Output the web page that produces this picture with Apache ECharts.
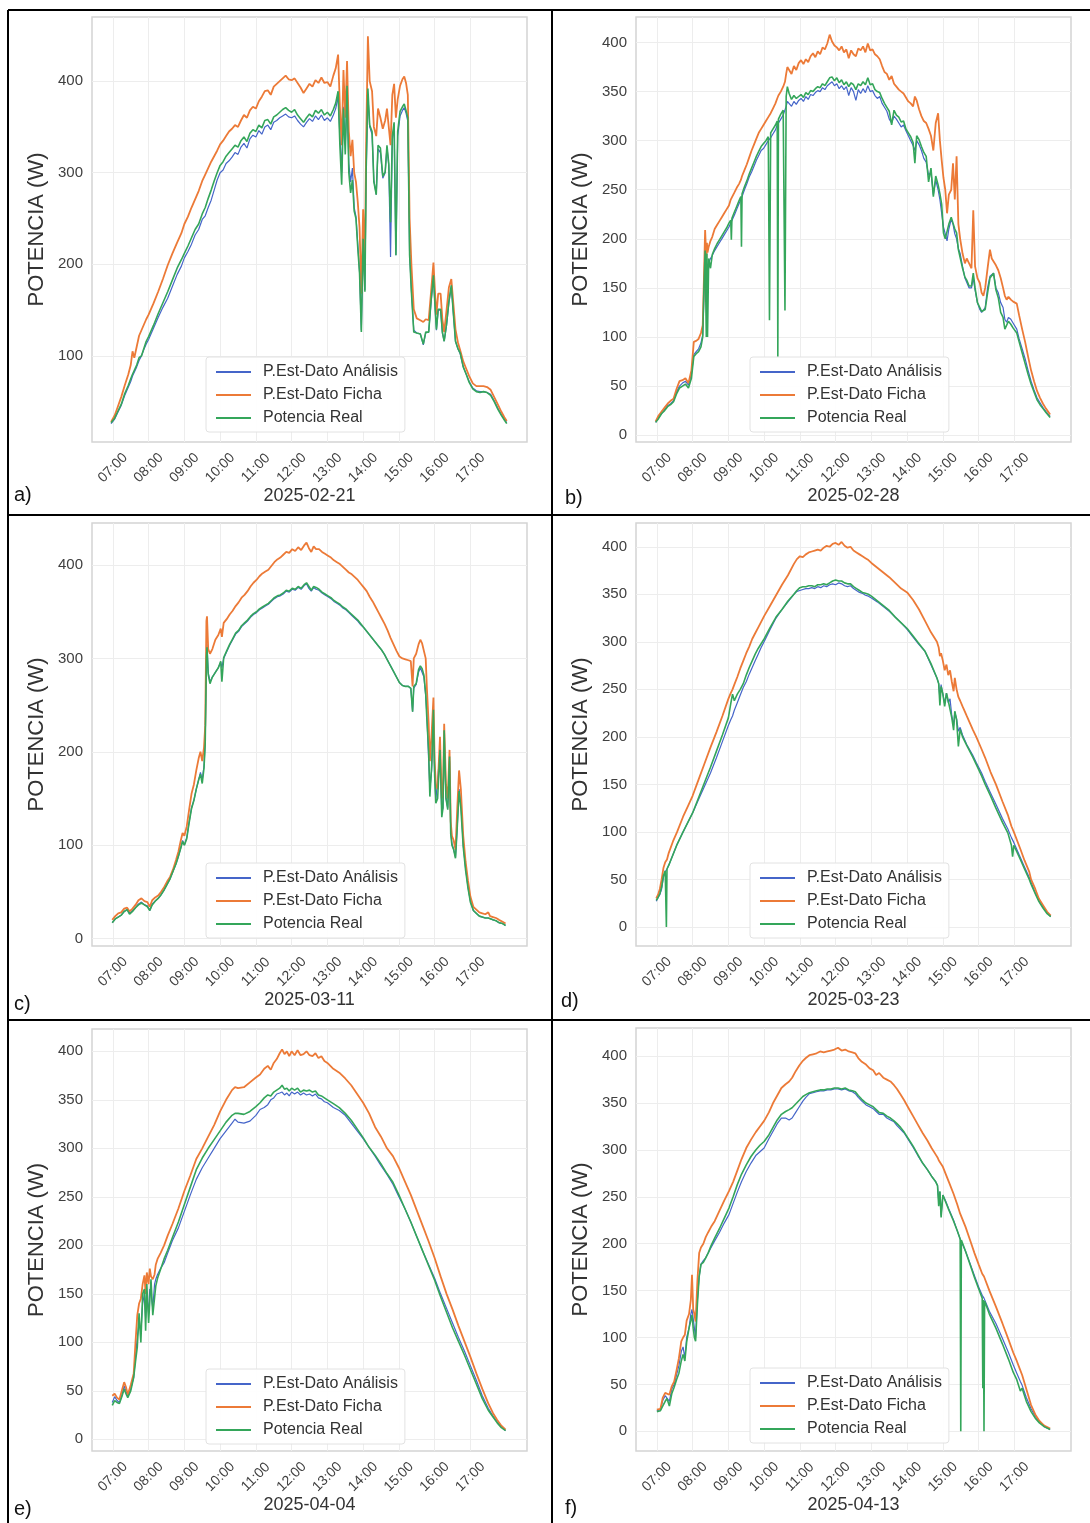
<!DOCTYPE html>
<html><head><meta charset="utf-8">
<script src="https://cdn.jsdelivr.net/npm/echarts@6/dist/echarts.min.js"></script>
<style>html,body{margin:0;padding:0;background:#fff;}#c{width:1090px;height:1523px;}</style>
</head><body><div id="c"></div>
<script>
const SERIES_NAMES = ['P.Est-Dato Análisis', 'P.Est-Dato Ficha', 'Potencia Real'];
const DATES = ['2025-02-21', '2025-02-28', '2025-03-11', '2025-03-23', '2025-04-04', '2025-04-13'];
const PANEL_LETTERS = ['a)', 'b)', 'c)', 'd)', 'e)', 'f)'];
const X_TICK_LABELS = ['07:00','08:00','09:00','10:00','11:00','12:00','13:00','14:00','15:00','16:00','17:00'];
const Y_TICKS_A = [100, 200, 300, 400];
const Y_TICKS_B = [0, 50, 100, 150, 200, 250, 300, 350, 400];
const Y_TICKS_C = [0, 100, 200, 300, 400];
const Y_TICKS_D = [0, 50, 100, 150, 200, 250, 300, 350, 400];
const Y_TICKS_E = [0, 50, 100, 150, 200, 250, 300, 350, 400];
const Y_TICKS_F = [0, 50, 100, 150, 200, 250, 300, 350, 400];
const Y_LIMITS = [[6, 470], [-7, 426], [-8, 445], [-20, 425], [-12, 423], [-21, 430]];
const X_LIMITS = ['06:25', '18:35'];

// rows: [hora, P.Est-Dato Análisis, P.Est-Dato Ficha, Potencia Real]
const A_DATA = [
["06:57",26,28,27],["07:03",31,35,32],["07:08",38,44,39],["07:14",46,55,47],["07:20",57,68,59],
["07:26",66,80,68],["07:30",72,90,75],["07:33",78,105,80],["07:36",80,98,82],["07:40",88,110,90],
["07:44",95,122,98],["07:48",100,128,100],["07:52",107,134,108],["07:56",113,140,116],["08:00",118,145,121],
["08:08",130,157,133],["08:16",142,170,146],["08:24",153,184,158],["08:32",163,199,170],["08:40",176,212,183],
["08:48",189,224,196],["08:55",198,234,205],["09:00",207,244,212],["09:06",214,252,220],["09:12",222,262,229],
["09:18",232,271,238],["09:24",238,280,244],["09:30",249,291,255],["09:35",253,298,262],["09:40",262,305,272],
["09:45",270,312,281],["09:50",281,318,291],["09:55",292,324,300],["10:00",300,331,308],["10:05",303,335,312],
["10:10",310,340,318],["10:15",313,345,322],["10:20",317,348,326],["10:25",322,352,330],["10:30",320,350,328],
["10:35",328,357,335],["10:40",332,363,339],["10:45",327,360,334],["10:50",337,368,343],["10:55",341,372,347],
["11:00",339,370,345],["11:05",346,378,352],["11:10",342,383,349],["11:15",350,389,357],["11:20",352,390,358],
["11:25",347,385,353],["11:30",355,394,361],["11:35",357,397,363],["11:40",360,400,366],["11:45",362,403,369],
["11:50",364,406,371],["11:55",361,402,368],["12:00",360,401,366],["12:05",362,403,369],["12:10",357,398,363],
["12:15",353,393,359],["12:20",350,387,355],["12:25",355,392,360],["12:30",359,397,364],["12:35",356,394,361],
["12:40",362,401,368],["12:45",358,398,365],["12:50",363,404,369],["12:55",357,398,363],["13:00",360,399,366],
["13:05",356,394,362],["13:10",363,406,369],["13:14",370,414,376],["13:18",383,429,389],["13:21",340,372,330],
["13:24",300,330,287],["13:27",372,412,370],["13:30",330,360,320],["13:33",378,422,395],["13:36",310,345,300],
["13:39",290,318,278],["13:42",305,336,292],["13:45",262,300,258],["13:48",252,290,250],["13:51",222,268,218],
["13:54",192,240,190],["13:57",128,168,126],["14:00",225,260,228],["14:03",172,205,170],["14:05",298,330,300],
["14:08",385,449,392],["14:11",350,400,352],["14:15",342,389,345],["14:18",292,350,290],["14:22",276,340,276],
["14:25",326,370,330],["14:29",322,360,327],["14:33",294,348,296],["14:37",300,357,301],["14:40",328,370,330],
["14:43",308,350,310],["14:46",208,330,246],["14:49",336,385,340],["14:52",352,397,355],["14:55",210,360,210],
["14:58",340,380,345],["15:02",362,395,367],["15:06",368,402,372],["15:09",371,405,375],["15:12",365,398,368],
["15:15",356,385,360],["15:18",212,250,210],["15:21",172,200,170],["15:25",128,151,126],["15:30",125,141,125],
["15:36",124,139,124],["15:41",112,137,113],["15:45",125,140,126],["15:50",126,139,126],["15:54",158,170,160],
["15:58",186,202,188],["16:01",150,165,150],["16:03",128,145,129],["16:06",150,168,151],["16:10",150,168,151],
["16:13",125,140,126],["16:16",116,126,116],["16:20",133,150,135],["16:24",158,175,160],["16:28",176,184,177],
["16:31",150,160,150],["16:35",116,129,116],["16:39",108,115,108],["16:43",102,106,103],["16:48",88,94,88],
["16:53",80,86,80],["16:58",72,78,71],["17:04",65,70,64],["17:10",62,67,61],["17:16",61,67,60],
["17:22",61,67,61],["17:28",60,66,60],["17:34",58,63,57],["17:40",51,55,50],["17:46",43,47,42],
["17:52",36,39,35],["17:57",31,33,30],["18:01",27,29,26]
];

const B_DATA = [
["06:58",13,14,13],["07:03",18,20,17],["07:08",22,24,22],["07:13",26,28,25],["07:18",30,32,29],
["07:23",32,35,31],["07:28",35,37,34],["07:33",44,47,42],["07:38",50,55,48],["07:43",53,56,50],
["07:48",55,58,52],["07:53",51,53,48],["07:58",62,66,58],["08:02",82,95,80],["08:06",85,96,83],
["08:10",88,98,85],["08:14",94,104,90],["08:17",102,112,100],["08:19",140,160,150],["08:21",172,209,188],
["08:23",155,180,100],["08:24",168,196,185],["08:25",170,186,100],["08:27",176,192,180],["08:30",180,198,170],
["08:33",183,202,184],["08:37",188,210,190],["08:41",192,214,195],["08:45",196,218,199],["08:49",200,222,203],
["08:53",204,226,207],["08:57",208,230,211],["09:01",212,234,216],["09:04",216,240,219],["09:05",216,240,199],
["09:06",218,242,221],["09:10",224,247,227],["09:14",230,252,233],["09:18",236,256,239],["09:21",240,260,243],
["09:22",241,262,192],["09:23",243,264,246],["09:27",250,270,253],["09:31",256,276,259],["09:35",263,283,266],
["09:39",268,290,272],["09:43",274,296,278],["09:47",280,302,284],["09:51",285,308,289],["09:55",290,312,294],
["09:59",292,316,297],["10:03",296,320,300],["10:07",300,324,304],["10:09",302,326,117],["10:11",303,328,308],
["10:15",307,333,312],["10:19",311,338,316],["10:22",316,343,320],["10:23",317,345,80],["10:24",318,346,322],
["10:28",322,350,327],["10:32",326,355,331],["10:35",328,360,127],["10:37",335,368,345],["10:39",340,375,355],
["10:42",338,372,348],["10:46",335,368,342],["10:50",340,376,346],["10:54",337,372,343],["10:58",341,379,345],
["11:02",343,382,347],["11:06",340,378,344],["11:10",345,383,349],["11:14",342,380,347],["11:18",347,386,351],
["11:22",346,389,350],["11:26",349,385,353],["11:30",351,391,355],["11:34",350,388,354],["11:38",354,395,358],
["11:42",352,393,356],["11:46",356,399,360],["11:50",358,408,364],["11:54",360,401,365],["11:58",356,397,361],
["12:02",358,395,364],["12:06",353,392,359],["12:10",356,396,362],["12:14",352,390,357],["12:18",355,393,360],
["12:22",346,384,355],["12:26",354,392,359],["12:30",350,388,357],["12:34",341,386,352],["12:38",352,394,358],
["12:42",348,392,356],["12:46",353,396,360],["12:50",349,390,357],["12:54",356,399,364],["12:58",350,392,357],
["13:02",351,393,358],["13:06",346,388,352],["13:10",343,386,350],["13:14",345,383,349],["13:18",338,376,343],
["13:22",334,370,338],["13:26",330,368,334],["13:30",322,362,330],["13:34",318,366,316],["13:38",325,358,331],
["13:42",322,355,326],["13:46",318,352,324],["13:50",314,350,319],["13:54",316,348,320],["13:58",310,344,312],
["14:02",305,340,308],["14:06",300,338,304],["14:10",295,335,298],["14:13",290,345,277],["14:16",300,341,305],
["14:20",296,332,301],["14:24",290,325,294],["14:28",282,320,288],["14:32",278,318,284],["14:36",265,312,258],
["14:40",268,305,272],["14:44",245,290,243],["14:48",260,318,264],["14:52",250,328,255],["14:55",240,300,246],
["14:58",226,280,235],["15:01",212,262,206],["15:04",205,250,200],["15:07",198,226,199],["15:10",210,245,215],
["15:14",220,250,222],["15:17",215,277,216],["15:20",205,240,210],["15:23",200,284,206],["15:26",190,215,189],
["15:29",185,200,190],["15:33",172,185,170],["15:37",160,175,161],["15:40",158,180,158],["15:44",150,175,152],
["15:48",150,170,152],["15:51",160,229,165],["15:54",148,172,150],["15:58",135,160,135],["16:02",128,155,130],
["16:05",125,145,126],["16:08",124,142,124],["16:11",130,150,128],["16:15",150,170,145],["16:19",162,189,160],
["16:22",160,180,158],["16:25",165,178,165],["16:29",150,173,148],["16:33",145,168,140],["16:37",135,160,125],
["16:41",130,150,120],["16:44",118,142,108],["16:47",115,138,107],["16:50",120,141,116],["16:54",118,138,113],
["16:58",114,136,109],["17:04",108,134,104],["17:08",98,122,95],["17:13",88,108,84],["17:18",78,95,73],
["17:23",66,80,62],["17:28",55,66,52],["17:33",46,55,44],["17:38",38,45,36],["17:43",33,38,31],
["17:48",28,32,27],["17:53",24,27,23],["18:00",19,21,18]
];

const C_DATA = [
["06:59",17,20,17],["07:04",21,24,21],["07:09",23,27,23],["07:14",25,28,25],["07:19",29,32,29],
["07:24",31,33,31],["07:28",27,29,26],["07:33",30,32,29],["07:38",33,36,33],["07:43",37,41,36],
["07:48",39,43,38],["07:53",36,40,36],["07:58",35,39,34],["08:02",30,34,30],["08:06",37,41,36],
["08:11",40,44,40],["08:16",43,46,43],["08:21",47,50,47],["08:26",52,55,52],["08:31",58,61,58],
["08:36",64,66,64],["08:41",72,74,72],["08:46",80,84,80],["08:50",88,93,88],["08:54",97,105,97],
["08:57",105,113,104],["09:00",100,110,100],["09:04",108,120,107],["09:08",125,138,124],["09:12",140,155,139],
["09:16",148,165,148],["09:20",160,180,160],["09:24",170,193,170],["09:27",178,200,176],["09:30",170,190,166],
["09:33",185,205,183],["09:35",210,228,209],["09:37",300,340,300],["09:38",315,345,312],["09:40",285,310,283],
["09:43",275,305,273],["09:47",280,310,280],["09:52",285,320,285],["09:57",290,325,290],["10:01",296,332,297],
["10:03",290,323,275],["10:06",300,338,301],["10:11",307,342,308],["10:16",314,347,315],["10:21",320,351,321],
["10:26",326,356,327],["10:31",329,360,330],["10:36",334,365,335],["10:41",337,368,338],["10:46",340,372,341],
["10:51",344,377,345],["10:56",347,381,348],["11:01",349,384,350],["11:06",352,388,353],["11:11",354,391,355],
["11:16",356,393,357],["11:21",358,395,359],["11:26",361,399,362],["11:31",364,403,365],["11:36",366,406,367],
["11:41",367,408,368],["11:46",369,411,370],["11:51",372,414,373],["11:56",371,413,372],["12:01",374,417,375],
["12:06",373,415,374],["12:11",376,419,377],["12:16",374,416,375],["12:21",378,421,379],["12:25",380,424,381],
["12:29",375,418,377],["12:33",372,414,373],["12:37",376,420,377],["12:41",374,417,376],["12:46",373,417,374],
["12:51",370,414,371],["12:56",368,412,369],["13:01",366,410,367],["13:06",364,408,365],["13:11",361,405,362],
["13:16",359,403,360],["13:21",357,401,358],["13:26",354,398,355],["13:31",352,395,353],["13:36",349,392,350],
["13:41",346,390,347],["13:46",343,387,344],["13:51",340,384,341],["13:56",336,380,337],["14:01",333,376,333],
["14:06",329,372,329],["14:11",325,366,325],["14:16",321,361,321],["14:21",317,355,317],["14:26",313,349,313],
["14:31",309,343,309],["14:36",304,337,304],["14:41",298,330,298],["14:46",292,322,292],["14:51",286,315,286],
["14:56",280,308,280],["15:01",274,302,274],["15:06",271,300,271],["15:11",270,299,270],["15:16",270,298,270],
["15:20",268,297,268],["15:23",243,270,243],["15:25",268,300,270],["15:29",272,305,273],["15:33",285,315,288],
["15:36",290,320,292],["15:39",288,316,289],["15:42",280,318,282],["15:45",260,300,262],["15:47",240,268,234],
["15:50",190,230,200],["15:52",160,190,152],["15:55",180,220,185],["15:58",230,258,245],["16:00",175,190,175],
["16:02",148,165,145],["16:05",150,160,150],["16:09",200,216,202],["16:12",135,150,130],["16:14",140,155,140],
["16:16",215,230,223],["16:19",150,165,150],["16:22",140,150,138],["16:25",190,202,195],["16:27",115,125,112],
["16:29",102,110,100],["16:32",95,105,95],["16:35",87,95,86],["16:38",120,140,120],["16:41",160,180,158],
["16:44",145,160,140],["16:48",100,110,98],["16:52",75,82,73],["16:56",55,62,54],["17:00",40,45,39],
["17:05",30,34,30],["17:10",27,31,27],["17:15",24,28,24],["17:20",23,27,23],["17:25",22,26,22],
["17:30",22,28,22],["17:33",21,24,21],["17:38",20,23,20],["17:43",19,22,19],["17:48",17,20,17],
["17:54",16,18,16],["17:59",14,16,14]
];

const D_DATA = [
["06:59",27,30,28],["07:02",31,34,31],["07:05",34,40,35],["07:08",40,50,42],["07:11",52,62,54],
["07:14",58,68,59],["07:15",59,69,30],["07:16",60,70,0],["07:17",61,71,61],["07:20",65,78,65],
["07:27",76,90,76],["07:34",87,100,87],["07:44",100,116,100],["07:52",110,127,110],["08:00",120,138,120],
["08:10",134,155,136],["08:20",148,172,152],["08:30",162,189,168],["08:40",178,205,185],["08:50",195,222,202],
["09:00",212,240,220],["09:04",218,246,235],["09:07",222,250,245],["09:10",228,255,238],["09:15",236,263,245],
["09:20",244,272,250],["09:25",252,280,256],["09:30",258,288,265],["09:35",266,295,273],["09:40",273,303,280],
["09:45",280,309,287],["09:50",287,315,293],["09:55",294,321,298],["10:00",300,327,303],["10:10",313,338,315],
["10:20",325,349,326],["10:30",334,360,334],["10:40",342,370,343],["10:50",350,382,350],["10:55",353,387,354],
["11:00",354,390,357],["11:05",355,389,358],["11:10",356,392,358],["11:15",356,394,359],["11:20",357,395,359],
["11:25",356,396,358],["11:30",358,397,360],["11:35",357,396,360],["11:40",359,399,361],["11:45",358,401,360],
["11:50",360,400,362],["11:55",361,403,364],["12:00",360,404,365],["12:05",362,402,364],["12:10",361,405,364],
["12:15",359,401,362],["12:20",358,399,361],["12:25",359,400,361],["12:30",356,396,358],["12:35",354,394,356],
["12:40",352,392,354],["12:45",351,390,352],["12:50",349,388,351],["12:55",348,386,350],["13:00",346,383,348],
["13:10",342,378,343],["13:20",337,373,338],["13:30",332,368,333],["13:40",326,362,326],["13:50",320,356,320],
["14:00",313,352,314],["14:10",305,344,306],["14:20",297,334,298],["14:30",290,322,290],["14:40",276,310,277],
["14:50",262,300,262],["14:53",256,294,256],["14:55",240,285,233],["14:57",255,288,253],["15:00",245,280,245],
["15:03",235,270,232],["15:06",246,276,246],["15:09",236,265,238],["15:12",240,270,237],["15:15",222,258,220],
["15:18",212,248,207],["15:20",226,262,227],["15:23",219,250,218],["15:26",206,242,190],["15:29",210,238,208],
["15:33",202,232,200],["15:40",192,222,191],["15:50",181,208,179],["15:56",173,200,171],["16:05",162,187,159],
["16:11",153,178,150],["16:20",141,163,138],["16:29",129,150,125],["16:40",114,132,110],["16:49",103,118,99],
["16:55",94,106,86],["16:57",92,104,74],["16:59",89,100,86],["17:10",73,82,71],["17:17",63,70,61],
["17:25",52,58,50],["17:28",47,50,45],["17:35",36,40,35],["17:41",28,30,27],["17:48",21,23,20],
["17:55",15,16,14],["18:01",11,12,11]
];

const E_DATA = [
["06:59",38,45,35],["07:03",44,47,40],["07:07",40,43,38],["07:11",38,41,37],["07:15",45,50,44],
["07:19",55,59,52],["07:22",50,54,47],["07:25",44,46,43],["07:30",52,56,50],["07:35",64,68,64],
["07:38",85,100,80],["07:41",105,128,95],["07:44",120,140,130],["07:47",110,145,100],["07:50",140,160,150],
["07:53",150,169,155],["07:55",125,150,112],["07:57",148,172,160],["08:00",130,160,120],["08:02",155,176,121],
["08:04",150,168,165],["08:07",135,165,128],["08:10",160,170,130],["08:12",165,180,158],["08:15",170,186,166],
["08:20",176,192,175],["08:26",182,200,186],["08:32",192,210,195],["08:40",205,222,208],["08:50",218,238,224],
["09:00",235,256,242],["09:10",252,272,260],["09:20",268,289,278],["09:30",280,300,290],["09:40",290,312,300],
["09:50",300,324,309],["10:00",310,338,318],["10:10",318,350,327],["10:20",326,360,334],["10:25",330,363,336],
["10:30",327,362,336],["10:40",326,363,335],["10:50",328,368,338],["11:00",334,373,343],["11:07",340,376,347],
["11:14",342,382,352],["11:20",345,385,355],["11:25",350,381,354],["11:30",352,388,358],["11:35",356,392,360],
["11:40",357,398,362],["11:44",358,402,365],["11:48",355,397,361],["11:52",357,400,362],["11:56",354,395,359],
["12:00",358,400,362],["12:05",356,396,360],["12:10",358,401,362],["12:15",355,396,358],["12:20",357,397,360],
["12:25",355,400,359],["12:30",356,396,360],["12:35",354,395,358],["12:40",356,398,359],["12:45",352,393,355],
["12:50",351,395,354],["12:55",348,390,352],["13:00",347,388,350],["13:10",342,382,346],["13:20",339,378,342],
["13:30",334,372,336],["13:40",326,365,329],["13:50",318,356,320],["14:00",310,347,311],["14:10",301,336,301],
["14:20",292,322,293],["14:30",282,312,284],["14:40",273,300,274],["14:50",263,292,265],["15:00",250,280,252],
["15:10",238,266,238],["15:20",224,252,224],["15:30",209,236,209],["15:40",194,220,194],["15:50",180,204,179],
["16:00",166,187,164],["16:10",150,168,147],["16:20",135,150,131],["16:30",120,134,115],["16:40",105,117,101],
["16:50",91,101,87],["17:00",76,85,72],["17:10",61,68,57],["17:20",45,52,42],["17:30",32,37,30],
["17:38",24,27,23],["17:45",18,20,17],["17:52",13,14,12],["17:59",9,10,9]
];

const F_DATA = [
["07:00",22,23,21],["07:03",22,23,21],["07:06",23,24,22],["07:10",33,36,27],["07:14",38,41,32],
["07:17",40,42,35],["07:21",32,39,27],["07:25",45,48,40],["07:29",50,53,47],["07:33",60,65,55],
["07:37",70,78,62],["07:41",85,96,75],["07:44",90,100,82],["07:47",78,103,75],["07:50",100,118,95],
["07:54",110,125,110],["07:57",125,140,118],["07:59",130,167,124],["08:01",120,130,110],["08:03",110,125,100],
["08:05",100,117,96],["08:08",140,160,135],["08:11",165,190,165],["08:14",178,196,178],["08:18",182,200,180],
["08:22",185,207,185],["08:26",190,212,190],["08:31",196,218,198],["08:37",203,224,206],["08:45",212,235,216],
["08:53",222,246,227],["09:01",231,256,238],["09:08",243,266,250],["09:15",255,278,263],["09:22",266,290,274],
["09:30",277,302,284],["09:38",286,311,293],["09:46",294,319,300],["09:53",298,325,305],["10:00",302,331,309],
["10:08",312,340,316],["10:15",320,350,324],["10:22",328,358,332],["10:29",334,366,338],["10:36",334,370,341],
["10:42",332,373,343],["10:47",334,377,345],["10:53",340,384,349],["10:59",346,390,353],["11:05",352,395,357],
["11:10",356,398,359],["11:16",360,401,361],["11:22",361,402,362],["11:28",362,403,363],["11:34",363,405,364],
["11:40",363,404,364],["11:46",364,405,365],["11:52",364,406,365],["11:58",365,407,366],["12:04",365,409,366],
["12:10",364,406,365],["12:16",365,407,366],["12:22",363,405,364],["12:28",362,404,363],["12:33",360,403,362],
["12:38",356,398,358],["12:44",352,394,354],["12:51",348,391,350],["12:57",346,387,348],["13:03",344,385,346],
["13:08",341,380,343],["13:13",338,382,340],["13:20",338,377,339],["13:26",334,375,336],["13:32",332,373,334],
["13:38",330,369,331],["13:43",326,365,328],["13:49",322,359,324],["13:55",318,353,319],["14:02",311,345,312],
["14:10",303,336,304],["14:18",294,327,295],["14:26",286,318,286],["14:34",279,310,279],["14:41",272,302,272],
["14:48",266,295,266],["14:51",262,292,262],["14:53",245,289,240],["14:55",255,287,256],["14:57",230,285,228],
["15:00",252,282,252],["15:05",245,274,244],["15:10",237,266,236],["15:18",225,253,224],["15:24",214,242,214],
["15:29",205,232,205],["15:30",205,231,0],["15:31",204,230,204],["15:38",192,218,192],["15:45",180,205,179],
["15:53",166,190,164],["16:00",154,178,152],["16:06",145,168,142],["16:07",144,167,46],["16:08",143,166,140],
["16:09",142,165,0],["16:10",141,164,139],["16:18",128,150,125],["16:29",115,133,110],["16:40",99,115,93],
["16:50",84,98,77],["16:58",71,84,63],["17:04",62,75,55],["17:10",53,65,43],["17:13",49,60,46],
["17:20",36,45,32],["17:28",24,28,21],["17:35",16,18,14],["17:42",10,11,9],["17:50",5,6,5],
["18:00",2,3,2]
];

const PANEL_DATA = [A_DATA, B_DATA, C_DATA, D_DATA, E_DATA, F_DATA];
const PANEL_YTICKS = [Y_TICKS_A, Y_TICKS_B, Y_TICKS_C, Y_TICKS_D, Y_TICKS_E, Y_TICKS_F];

// ---------- layout / style ----------
const GRIDS = [
  {left: 92, top: 17, width: 435, height: 425},
  {left: 636, top: 17, width: 435, height: 425},
  {left: 92, top: 523, width: 435, height: 423},
  {left: 636, top: 523, width: 435, height: 423},
  {left: 92, top: 1029, width: 435, height: 422},
  {left: 636, top: 1028, width: 435, height: 423}
];
const LETTER_POS = [[14, 496], [565, 499], [14, 1005], [561, 1002], [14, 1510], [565, 1509]];
const COLORS = ['#4565c9', '#ec7a37', '#34a65a'];
const WIDTHS = [1.2, 1.8, 1.6];
const FONT = '"Liberation Sans", Arial, sans-serif';

function toMin(s) { const p = s.split(':'); return parseInt(p[0], 10) * 60 + parseInt(p[1], 10); }
const X_TICK_VALUES = X_TICK_LABELS.map(toMin);
const X_MIN = toMin(X_LIMITS[0]), X_MAX = toMin(X_LIMITS[1]);
function fmtTime(v) { const h = Math.floor(v / 60), m = Math.round(v % 60); return String(h).padStart(2, '0') + ':' + String(m).padStart(2, '0'); }

const grid = [], xAxis = [], yAxis = [], series = [], legend = [], graphic = [];
GRIDS.forEach((g, i) => {
  grid.push(Object.assign({show: true, borderColor: '#d4d4d4', borderWidth: 1.5, backgroundColor: '#ffffff', containLabel: false, outerBoundsMode: 'none'}, g));
  xAxis.push({
    gridIndex: i, type: 'value', min: X_MIN, max: X_MAX,
    axisLine: {show: false},
    axisTick: {show: false, customValues: X_TICK_VALUES},
    axisLabel: {customValues: X_TICK_VALUES, formatter: fmtTime, rotate: 45, align: 'center', verticalAlign: 'middle',
      margin: 26, fontSize: 14, color: '#404040', fontFamily: FONT},
    splitLine: {show: true, lineStyle: {color: '#ededed', width: 1}},
    name: DATES[i], nameLocation: 'middle', nameGap: 45, nameMoveOverlap: false,
    nameTextStyle: {fontSize: 18, color: '#333333', fontFamily: FONT}
  });
  yAxis.push({
    gridIndex: i, type: 'value', min: Y_LIMITS[i][0], max: Y_LIMITS[i][1],
    axisLine: {show: false},
    axisTick: {show: false, customValues: PANEL_YTICKS[i]},
    axisLabel: {customValues: PANEL_YTICKS[i], margin: 9, fontSize: 15, color: '#404040', fontFamily: FONT},
    splitLine: {show: true, lineStyle: {color: '#ededed', width: 1}},
    name: 'POTENCIA (W)', nameLocation: 'middle', nameGap: 44, nameMoveOverlap: false,
    nameTextStyle: {fontSize: 22, color: '#333333', fontFamily: FONT}
  });
  SERIES_NAMES.forEach((name, k) => {
    series.push({
      name: name, type: 'line', xAxisIndex: i, yAxisIndex: i,
      data: PANEL_DATA[i].map(r => [toMin(r[0]), r[k + 1]]),
      symbol: 'none', showSymbol: false, color: COLORS[k],
      lineStyle: {color: COLORS[k], width: WIDTHS[k]}, z: 2 + k, silent: true
    });
  });
  legend.push({
    show: true, orient: 'vertical', left: g.left + 114, top: g.top + 340,
    data: SERIES_NAMES, selectedMode: false,
    itemWidth: 35, itemHeight: 14, itemGap: 7,
    itemStyle: {opacity: 0, borderWidth: 0},
    padding: [7, 7, 6, 9],
    backgroundColor: 'rgba(255,255,255,0.9)', borderColor: '#e2e2e2', borderWidth: 1, borderRadius: 3,
    textStyle: {fontSize: 16, color: '#333333', fontFamily: FONT, padding: [0, 0, 0, 7]}
  });
  graphic.push({type: 'text', left: LETTER_POS[i][0], top: LETTER_POS[i][1] - 11,
    style: {text: PANEL_LETTERS[i], font: '20px ' + FONT, fill: '#111111'}});
});

// table borders
const LINES = [[8, 10, 1090, 10], [8, 10, 8, 1523], [552, 10, 552, 1523], [8, 515, 1090, 515], [8, 1020, 1090, 1020]];
LINES.forEach(l => graphic.push({type: 'line', shape: {x1: l[0], y1: l[1], x2: l[2], y2: l[3]}, style: {stroke: '#000', lineWidth: 2}, z: 100}));

const chart = echarts.init(document.getElementById('c'), null, {renderer: 'canvas'});
chart.setOption({animation: false, backgroundColor: '#ffffff', grid, xAxis, yAxis, series, legend, graphic});
</script></body></html>
